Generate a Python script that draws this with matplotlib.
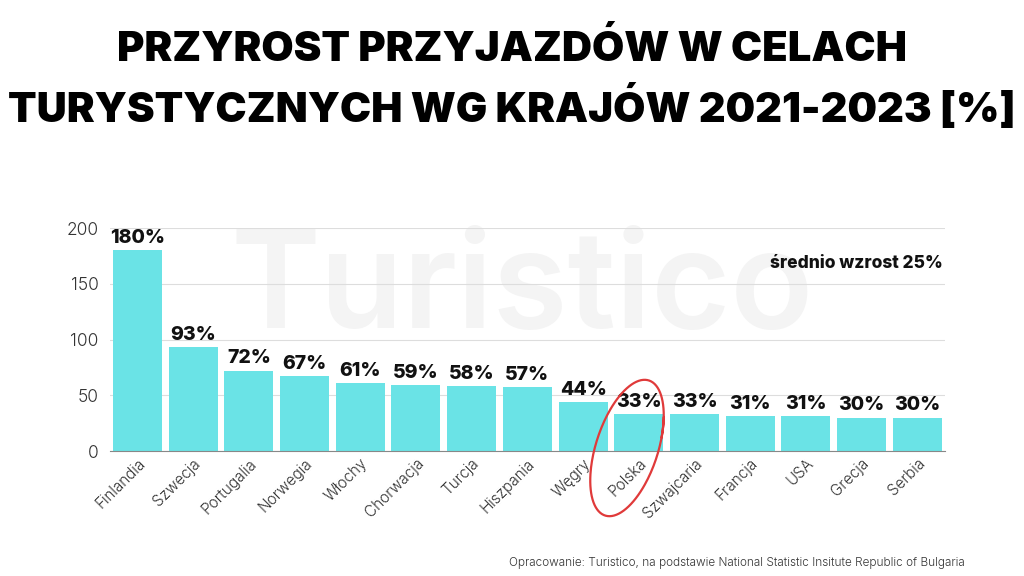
import numpy as np
import matplotlib.pyplot as plt

kraje = ["Finlandia", "Szwecja", "Portugalia", "Norwegia", "Włochy", "Chorwacja",
         "Turcja", "Hiszpania", "Węgry", "Polska", "Szwajcaria", "Francja",
         "USA", "Grecja", "Serbia"]
przyrost = [180, 93, 72, 67, 61, 59, 58, 57, 44, 33, 33, 31, 31, 30, 30]
yticks = [0, 50, 100, 150, 200]

plt.rcParams['font.family'] = ['Inter', 'DejaVu Sans']

fig = plt.figure(figsize=(10.24, 5.76), dpi=100)

# warstwa tla (piksele) - znak wodny
bg = fig.add_axes([0, 0, 1, 1])
bg.set_xlim(0, 1024)
bg.set_ylim(576, 0)
bg.axis('off')
bg.text(522, 292, "Turistico", fontsize=98, fontweight='semibold', color='#f4f4f4',
        ha='center', va='center')

ax = fig.add_axes([0.107, 0.217, 0.816, 0.387])
ax.patch.set_alpha(0)
x = np.arange(len(kraje))
bars = ax.bar(x, przyrost, width=0.88, color='#6ae3e6', zorder=2)
ax.set_ylim(0, 200)
ax.set_xlim(-0.5, len(kraje) - 0.5)
ax.set_yticks(yticks)
ax.grid(axis='y', color='#dddddd', linewidth=0.8, zorder=0)
for s in ['top', 'right', 'left']:
    ax.spines[s].set_visible(False)
ax.spines['bottom'].set_color('#888888')
ax.tick_params(axis='both', length=0, colors='#333333')
ax.tick_params(axis='y', pad=8, labelsize=12.5)
for lab in ax.get_yticklabels():
    lab.set_fontweight(300)
ax.set_xticks(x)
ax.set_xticklabels(kraje, rotation=45, ha='right', rotation_mode='anchor',
                   fontsize=11, fontweight=300)

for xi, v in zip(x, przyrost):
    ax.text(xi, v + 3, f"{v}%", ha='center', va='bottom', fontsize=14,
            fontweight='heavy', color='#111111')

ax.text(len(kraje) - 0.55, 168, "średnio wzrost 25%", ha='right', va='center',
        fontsize=12.5, fontweight='heavy', color='#111111')

# tytul
fig.text(0.5, 0.915, "PRZYROST PRZYJAZDÓW W CELACH", ha='center', va='center',
         fontsize=30, fontweight='black', color='black')
fig.text(0.5, 0.815, "TURYSTYCZNYCH WG KRAJÓW 2021-2023 [%]", ha='center', va='center',
         fontsize=30, fontweight='black', color='black')

fig.text(0.942, 0.022, "Opracowanie: Turistico, na podstawie National Statistic Insitute Republic of Bulgaria",
         ha='right', va='center', fontsize=8.5, fontweight=300, color='#333333')

# czerwona elipsa wokol Polski
ov = fig.add_axes([0, 0, 1, 1])
ov.set_xlim(0, 1024)
ov.set_ylim(576, 0)
ov.axis('off')
t = np.linspace(0.3, 2 * np.pi + 0.6, 200)
th = np.deg2rad(18)
ux, uy = np.sin(th), -np.cos(th)   # os wielka (w gore w prawo)
vx, vy = np.cos(th), np.sin(th)    # os mala
a, b = 31, 71
ex = 627 + b * np.sin(t) * ux + a * np.cos(t) * vx
ey = 448 + b * np.sin(t) * uy + a * np.cos(t) * vy
ov.plot(ex, ey, color='#e03a3a', linewidth=1.6)

fig.savefig("out.png", dpi=100, facecolor='white')
